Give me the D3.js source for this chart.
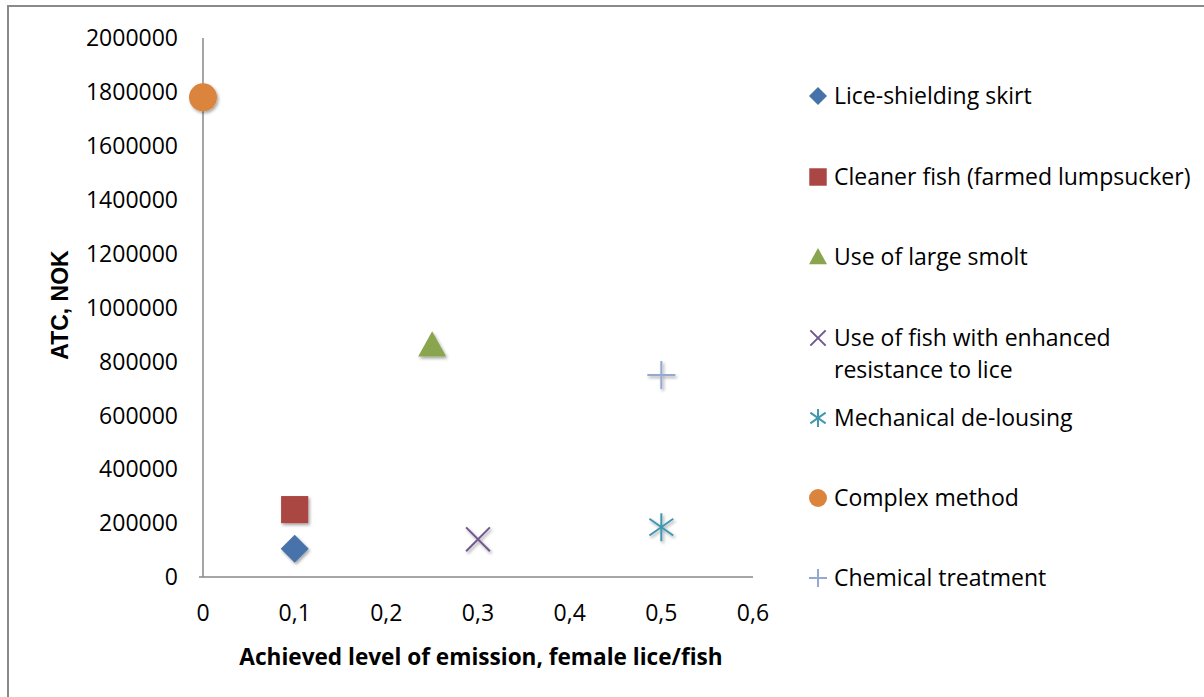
<!DOCTYPE html>
<html><head><meta charset="utf-8">
<script src="https://cdn.jsdelivr.net/npm/d3@7"></script>
<style>body{margin:0;background:#fff;} text{font-family:"Open Sans",sans-serif;}</style>
</head><body><svg id="c" width="1204" height="697"></svg>
<script>
const seriesNames = ["Lice-shielding skirt","Cleaner fish (farmed lumpsucker)","Use of large smolt","Use of fish with enhanced resistance to lice","Mechanical de-lousing","Complex method","Chemical treatment"];
const xValues = [0.1, 0.1, 0.25, 0.3, 0.5, 0, 0.5];
const yValues = [105000, 250000, 860000, 140000, 185000, 1780000, 750000];
const colors = ["#4672AA","#AA4643","#89A54E","#71588F","#4198AF","#DB843D","#93A9CF"];
const shapes = ["diamond","square","triangle","x","star","circle","plus"];
const xTicks = [0,0.1,0.2,0.3,0.4,0.5,0.6];
const yTicks = [0,200000,400000,600000,800000,1000000,1200000,1400000,1600000,1800000,2000000];

const svg = d3.select("#c");
svg.append("rect").attr("x",8).attr("y",6).attr("width",1300).attr("height",800)
  .attr("fill","none").attr("stroke","#8a8a8a").attr("stroke-width",2);

const x = d3.scaleLinear().domain([0,0.6]).range([203,753]);
const y = d3.scaleLinear().domain([0,2000000]).range([577,38]);

const defs = svg.append("defs");
const f = defs.append("filter").attr("id","sh").attr("x","-50%").attr("y","-50%").attr("width","200%").attr("height","200%");
f.append("feDropShadow").attr("dx",1.5).attr("dy",2).attr("stdDeviation",1.5).attr("flood-color","#000").attr("flood-opacity",0.35);

// axes
svg.append("line").attr("x1",x(0)).attr("x2",x(0)).attr("y1",y(2000000)).attr("y2",y(0)).attr("stroke","#888").attr("stroke-width",1.5);
svg.append("line").attr("x1",x(0)-4).attr("x2",x(0.6)).attr("y1",y(0)).attr("y2",y(0)).attr("stroke","#888").attr("stroke-width",1.5);

svg.selectAll(".yt").data(yTicks).enter().append("text")
  .attr("x",178).attr("y",d=>y(d)).attr("dy","0.36em").attr("text-anchor","end")
  .attr("font-size",23).attr("fill","#000").text(d=>d3.format("d")(d));
svg.selectAll(".xt").data(xTicks).enter().append("text")
  .attr("x",d=>x(d)).attr("y",621).attr("text-anchor","middle")
  .attr("font-size",23).attr("fill","#000").text(d=>d===0?"0":d3.format(".1f")(d).replace(".",","));

svg.append("text").attr("transform","translate(68,305) rotate(-90)").attr("text-anchor","middle")
  .attr("font-size",23).attr("font-weight","bold").style("font-family","Liberation Sans, Arial").text("ATC, NOK");
svg.append("text").attr("x",481).attr("y",665).attr("text-anchor","middle")
  .attr("font-size",22.6).attr("font-weight","bold").text("Achieved level of emission, female lice/fish");

function drawMarker(g, shape, color, s, shadow){
  if(shadow) g.attr("filter","url(#sh)");
  if(shape==="diamond") g.append("path").attr("d",`M0,${-s}L${s},0L0,${s}L${-s},0Z`).attr("fill",color);
  else if(shape==="square") g.append("rect").attr("x",-s*0.97).attr("y",-s*0.97).attr("width",s*1.94).attr("height",s*1.94).attr("fill",color);
  else if(shape==="triangle") g.append("path").attr("d",`M0,${-s}L${s},${s*0.8}L${-s},${s*0.8}Z`).attr("fill",color);
  else if(shape==="circle") g.append("circle").attr("r",s).attr("fill",color);
  else if(shape==="x") g.append("path").attr("d",`M${-s*0.85},${-s*0.85}L${s*0.85},${s*0.85}M${-s*0.85},${s*0.85}L${s*0.85},${-s*0.85}`).attr("stroke",color).attr("stroke-width",2).attr("fill","none");
  else if(shape==="star") g.append("path").attr("d",`M0,${-s}L0,${s}M${-s*0.85},${-s*0.6}L${s*0.85},${s*0.6}M${-s*0.85},${s*0.6}L${s*0.85},${-s*0.6}`).attr("stroke",color).attr("stroke-width",2).attr("fill","none");
  else if(shape==="plus") g.append("path").attr("d",`M0,${-s}L0,${s}M${-s},0L${s},0`).attr("stroke",color).attr("stroke-width",2).attr("fill","none");
}

seriesNames.forEach((n,i)=>{
  const g = svg.append("g").attr("transform",`translate(${x(xValues[i])},${y(yValues[i])})`);
  drawMarker(g, shapes[i], colors[i], 14, true);
});

// legend
const legY = [96,177,257,338,418,498,578];
seriesNames.forEach((n,i)=>{
  const g = svg.append("g").attr("transform",`translate(818,${legY[i]})`);
  drawMarker(g, shapes[i], colors[i], 9, false);
  const t = svg.append("text").attr("x",834).attr("y",legY[i]).attr("dy","0.36em").attr("font-size",23).attr("fill","#000");
  if(i===3){
    t.append("tspan").attr("x",834).text("Use of fish with enhanced");
    t.append("tspan").attr("x",834).attr("dy","32px").text("resistance to lice");
  } else t.text(n);
});
</script></body></html>
